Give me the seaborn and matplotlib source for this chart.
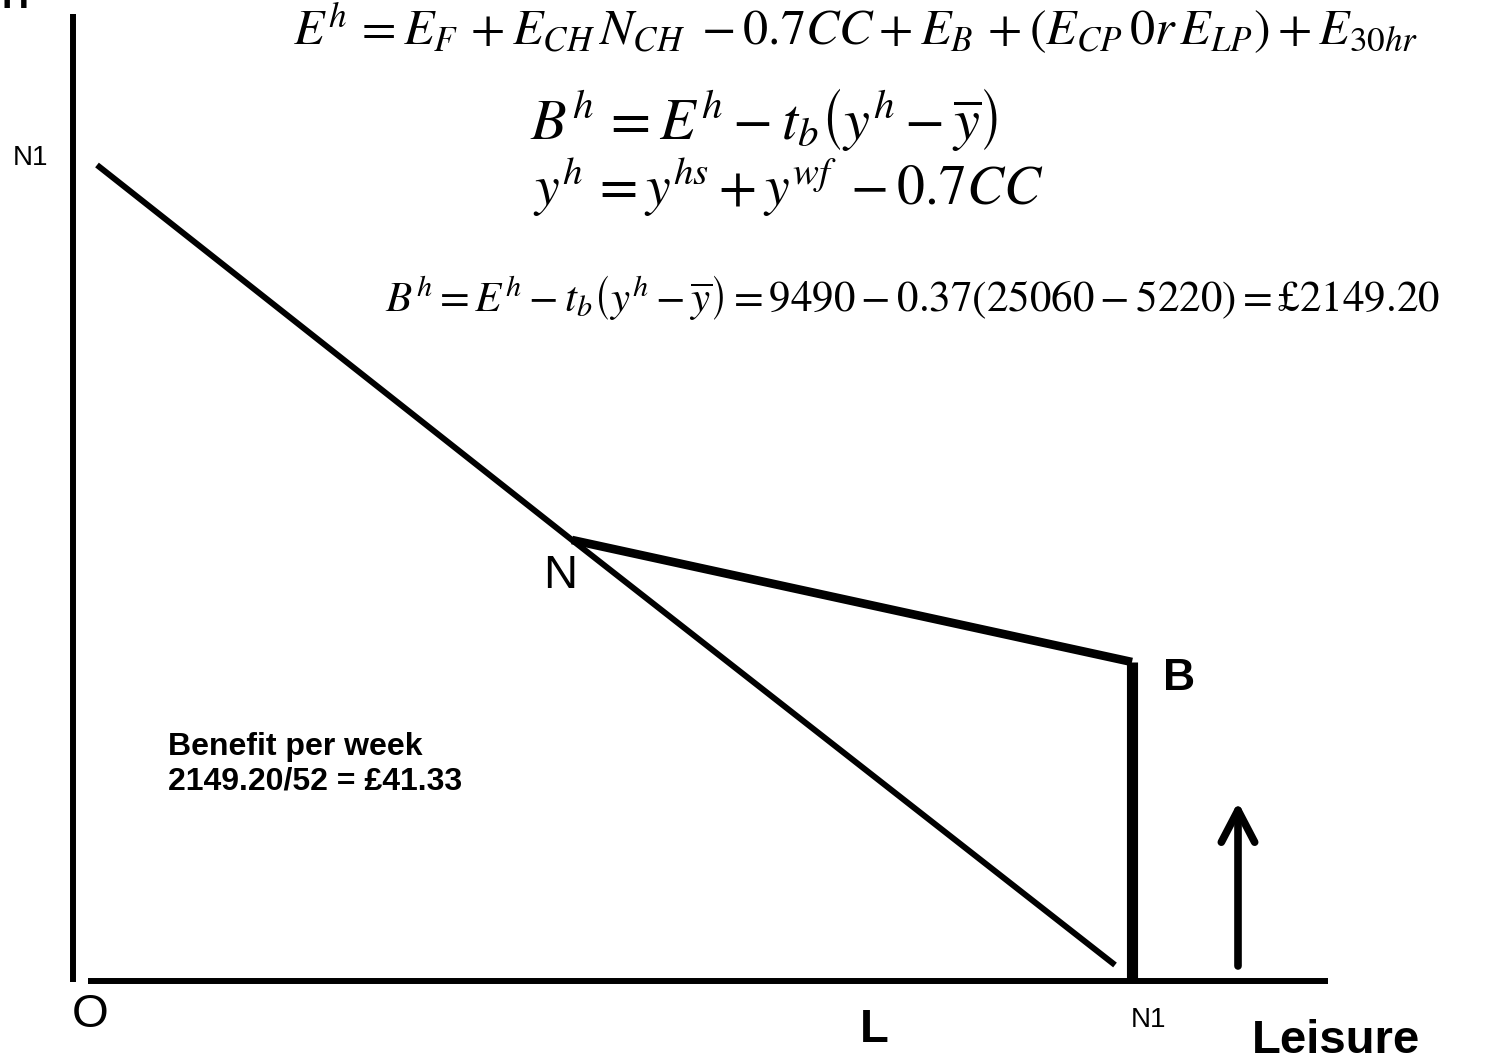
import matplotlib
matplotlib.use("Agg")
import matplotlib.pyplot as plt
import seaborn as sns
import pandas as pd

# Diagram values (x = leisure, y = income, in picture units)
budget_x = [97, 572, 1115]        # full-time budget line O..N..N1
budget_y = [165, 540, 965]
benefit_x = [572, 1132]           # kinked segment N -> B
benefit_y = [540, 662]
drop_x = [1132, 1132]             # vertical at N1 up to B
drop_y = [982, 662]
vaxis_x = [73, 73]
vaxis_y = [14, 982]
haxis_x = [88, 1328]
haxis_y = [981, 981]
arrow_x = [1238, 1238]
arrow_y = [966, 802]

eq_lines = [
    r"$E^h\,=E_F\,+E_{CH}\,N_{CH}\;-0.7CC+E_B\,+\left(E_{CP}\,0r\,E_{LP}\right)+E_{30hr}$",
    r"$B^h\,=E^h-t_b\left(y^h-\overline{y}\right)$",
    r"$y^h\,=y^{hs}+y^{wf}\;-0.7CC$",
    r"$B^h=E^h-t_b\left(y^h-\overline{y}\right)=9490-0.37\left(25060-5220\right)=\mathrm{£2149.20}$",
]
eq_x = [856, 764, 788, 912]
eq_y = [45, 140, 205, 312]
eq_size = [36, 42, 40, 31]

benefit_text = "Benefit per week\n2149.20/52 = £41.33"

sns.set_theme(style="white")
plt.rcParams["font.family"] = ["Liberation Sans", "DejaVu Sans"]
plt.rcParams["mathtext.fontset"] = "stix"
plt.rcParams["text.color"] = "black"

fig = plt.figure(figsize=(14.99, 10.60), dpi=100)
ax = fig.add_axes([0, 0, 1, 1])
ax.set_xlim(0, 1499)
ax.set_ylim(1060, 0)
ax.axis("off")

def seg(xs, ys, lw):
    df = pd.DataFrame({"x": xs, "y": ys})
    sns.lineplot(data=df, x="x", y="y", sort=False, color="black", lw=lw,
                 ax=ax, solid_capstyle="butt", estimator=None)

seg(vaxis_x, vaxis_y, 4.3)
seg(haxis_x, haxis_y, 4.3)
seg(budget_x, budget_y, 4.3)
seg(benefit_x, benefit_y, 6.2)
seg(drop_x, drop_y, 8)

ax.annotate("", xy=(arrow_x[1], arrow_y[1]), xytext=(arrow_x[0], arrow_y[0]),
            arrowprops=dict(arrowstyle="->,head_length=1.15,head_width=0.6",
                            lw=5.5, color="black", mutation_scale=20,
                            shrinkA=0, shrinkB=0, capstyle="round"))

for txt, x, y, s in zip(eq_lines, eq_x, eq_y, eq_size):
    ax.text(x, y, txt, fontsize=s, ha="center", va="baseline", color="black")

ax.text(2, 8, "H", fontsize=27, fontweight="bold", ha="left", va="baseline")
ax.text(13, 165, "N1", fontsize=20, ha="left", va="baseline")
ax.text(543, 588, "N", fontsize=34, ha="left", va="baseline")
ax.text(1163, 690, "B", fontsize=32, fontweight="bold", ha="left", va="baseline")
ax.text(72, 1027, "O", fontsize=34, ha="left", va="baseline")
ax.text(860, 1042, "L", fontsize=34, fontweight="bold", ha="left", va="baseline")
ax.text(1131, 1027, "N1", fontsize=20, ha="left", va="baseline")
ax.text(1252, 1053, "Leisure", fontsize=34, fontweight="bold", ha="left", va="baseline")
ax.text(168, 790, benefit_text, fontsize=23, fontweight="bold", ha="left",
        va="baseline", linespacing=1.2)

fig.savefig("out.png", dpi=100)
